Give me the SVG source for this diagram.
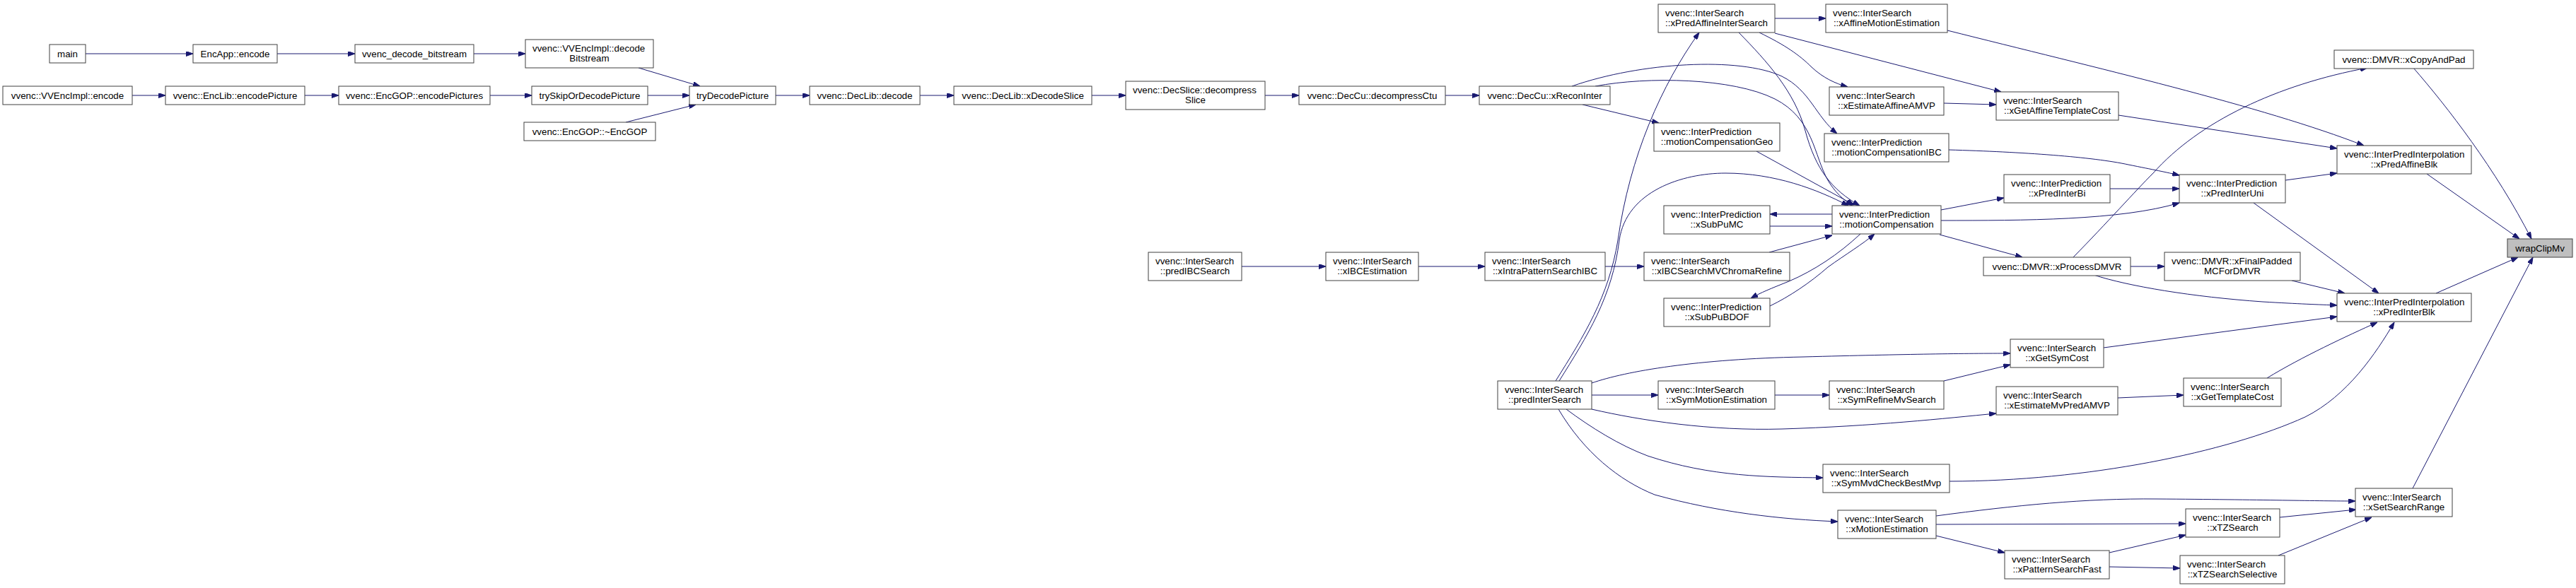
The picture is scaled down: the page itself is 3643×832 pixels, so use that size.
<svg xmlns="http://www.w3.org/2000/svg" width="3643" height="832" viewBox="0 0 3643 832">
<style>
.n rect{fill:#ffffff;stroke:#404040;stroke-width:1}
.n.hl rect{fill:#bfbfbf}
.n text{font-family:"Liberation Sans",Arial,Helvetica,sans-serif;font-size:13.33px;fill:#000000}
.c{text-anchor:middle}
.e path{fill:none;stroke:#191970;stroke-width:1;marker-end:url(#ah)}
</style>
<defs>
<marker id="ah" viewBox="0 0 10 7" refX="10" refY="3.5" markerWidth="10" markerHeight="7" markerUnits="userSpaceOnUse" orient="auto"><path d="M0,0 L10,3.5 L0,7 z" fill="#191970" stroke="#191970" stroke-width="1"/></marker>
</defs>
<rect x="0" y="0" width="3643" height="832" fill="#ffffff"/>
<g id="edges" class="e">
<path d="M121,76 L273,76"/>
<path d="M392,76 L502,76"/>
<path d="M670,76 L743,76"/>
<path d="M187,135 L234,135"/>
<path d="M431,135 L479,135"/>
<path d="M693,135 L752,135"/>
<path d="M903,96 L990,122"/>
<path d="M916,135 L975,135"/>
<path d="M885,173 L984,148"/>
<path d="M1097,135 L1145,135"/>
<path d="M1301,135 L1349,135"/>
<path d="M1544,135 L1592,135"/>
<path d="M1789,135 L1837,135"/>
<path d="M2044,135 L2092,135"/>
<path d="M2238,148 L2346,174"/>
<path d="M2223,122 C2320,88 2460,80 2520,108 C2560,128 2568,165 2598,189"/>
<path d="M2256,122 C2330,108 2450,110 2510,140 C2565,168 2565,220 2585,255 C2595,272 2607,283 2620,291"/>
<path d="M2200,539 C2240,475 2275,420 2288,340 C2305,220 2350,120 2403,46"/>
<path d="M2205,539 C2245,475 2280,420 2290,340 C2300,270 2380,245 2440,245 C2510,245 2570,268 2614,291"/>
<path d="M2510,26 L2582,26"/>
<path d="M2459,46 C2500,88 2538,130 2553,185 C2568,240 2590,268 2630,291"/>
<path d="M2488,46 C2525,64 2545,78 2562,95 C2578,110 2595,118 2613,123"/>
<path d="M2510,47 L2830,130"/>
<path d="M2754,43 C2960,95 3200,150 3343,206"/>
<path d="M2749,146 L2823,148"/>
<path d="M2996,163 L3305,210"/>
<path d="M2756,212 C2860,215 2960,222 3010,233 C3045,240 3065,244 3082,248"/>
<path d="M2745,297 L2834,280"/>
<path d="M2745,312 C2860,312 3000,312 3082,287"/>
<path d="M2743,332 L2860,364"/>
<path d="M2591,303 L2503,303"/>
<path d="M2503,320 L2591,320"/>
<path d="M2631,331 C2600,360 2565,383 2530,398 C2505,408 2490,414 2476,422"/>
<path d="M2503,433 C2530,420 2560,400 2585,378 C2610,360 2635,345 2651,331"/>
<path d="M2502,357 L2591,333"/>
<path d="M2484,214 L2622,290"/>
<path d="M2270,377 L2325,377"/>
<path d="M2006,377 L2100,377"/>
<path d="M1756,377 L1875,377"/>
<path d="M2984,267 L3082,267"/>
<path d="M3232,255 L3305,245"/>
<path d="M3187,287 L3364,415"/>
<path d="M3432,246 L3563,338"/>
<path d="M3413,96 C3460,150 3530,240 3580,338"/>
<path d="M2932,364 C2980,315 3020,270 3045,245 C3110,172 3220,120 3348,96"/>
<path d="M3013,377 L3061,377"/>
<path d="M2961,389 C3010,405 3100,420 3200,427 C3250,430 3280,431 3305,432"/>
<path d="M3241,397 L3316,415"/>
<path d="M3445,415 L3561,364"/>
<path d="M3412,691 L3582,364"/>
<path d="M2975,492 L3305,448"/>
<path d="M3206,535 C3255,505 3320,475 3362,456"/>
<path d="M2757,681 C2950,681 3150,640 3260,590 C3320,560 3360,500 3386,456"/>
<path d="M2251,542 C2300,525 2400,508 2550,505 C2700,501 2780,500 2843,500"/>
<path d="M2749,539 L2843,516"/>
<path d="M2251,579 C2320,595 2420,610 2520,607 C2650,603 2750,592 2823,585"/>
<path d="M2995,563 L3088,559"/>
<path d="M2251,559 L2345,559"/>
<path d="M2510,559 L2587,559"/>
<path d="M2215,579 C2250,605 2290,630 2330,645 C2420,675 2500,675 2578,676"/>
<path d="M2204,579 C2240,640 2290,680 2340,700 C2430,725 2520,735 2599,738"/>
<path d="M2738,730 C2850,715 2950,705 3050,706 C3200,707 3280,709 3331,709"/>
<path d="M2738,742 L3091,741"/>
<path d="M2738,758 L2835,782"/>
<path d="M3224,732 L3332,721"/>
<path d="M2983,782 L3091,757"/>
<path d="M2983,802 L3083,804"/>
<path d="M3222,786 L3354,732"/>
</g>
<g id="n_main" class="n"><rect x="70" y="63" width="51" height="26"/><text class="c" x="95.5" y="80.5">main</text></g>
<g id="n_encapp" class="n"><rect x="273" y="63" width="119" height="26"/><text class="c" x="332.5" y="80.5">EncApp::encode</text></g>
<g id="n_vdb" class="n"><rect x="502" y="63" width="168" height="26"/><text class="c" x="586" y="80.5">vvenc_decode_bitstream</text></g>
<g id="n_decbs" class="n"><rect x="743" y="56" width="181" height="40"/><text x="753" y="73">vvenc::VVEncImpl::decode</text><text class="c" x="833.5" y="87">Bitstream</text></g>
<g id="n_implenc" class="n"><rect x="4" y="122" width="183" height="26"/><text class="c" x="95.5" y="139.5">vvenc::VVEncImpl::encode</text></g>
<g id="n_enclib" class="n"><rect x="234" y="122" width="197" height="26"/><text class="c" x="332.5" y="139.5">vvenc::EncLib::encodePicture</text></g>
<g id="n_encgop" class="n"><rect x="479" y="122" width="214" height="26"/><text class="c" x="586" y="139.5">vvenc::EncGOP::encodePictures</text></g>
<g id="n_tryskip" class="n"><rect x="752" y="122" width="164" height="26"/><text class="c" x="834" y="139.5">trySkipOrDecodePicture</text></g>
<g id="n_dtor" class="n"><rect x="741" y="173" width="186" height="26"/><text class="c" x="834" y="190.5">vvenc::EncGOP::~EncGOP</text></g>
<g id="n_trydec" class="n"><rect x="975" y="122" width="122" height="26"/><text class="c" x="1036" y="139.5">tryDecodePicture</text></g>
<g id="n_declib" class="n"><rect x="1145" y="122" width="156" height="26"/><text class="c" x="1223" y="139.5">vvenc::DecLib::decode</text></g>
<g id="n_xdecslice" class="n"><rect x="1349" y="122" width="195" height="26"/><text class="c" x="1446.5" y="139.5">vvenc::DecLib::xDecodeSlice</text></g>
<g id="n_decslice" class="n"><rect x="1592" y="115" width="197" height="40"/><text x="1602" y="132">vvenc::DecSlice::decompress</text><text class="c" x="1690.5" y="146">Slice</text></g>
<g id="n_decctu" class="n"><rect x="1837" y="122" width="207" height="26"/><text class="c" x="1940.5" y="139.5">vvenc::DecCu::decompressCtu</text></g>
<g id="n_xrecon" class="n"><rect x="2092" y="122" width="185" height="26"/><text class="c" x="2184.5" y="139.5">vvenc::DecCu::xReconInter</text></g>
<g id="n_predibc" class="n"><rect x="1624" y="357" width="132" height="40"/><text x="1634" y="374">vvenc::InterSearch</text><text class="c" x="1690" y="388">::predIBCSearch</text></g>
<g id="n_xibcest" class="n"><rect x="1875" y="357" width="131" height="40"/><text x="1885" y="374">vvenc::InterSearch</text><text class="c" x="1940.5" y="388">::xIBCEstimation</text></g>
<g id="n_xintrapat" class="n"><rect x="2100" y="357" width="170" height="40"/><text x="2110" y="374">vvenc::InterSearch</text><text class="c" x="2185" y="388">::xIntraPatternSearchIBC</text></g>
<g id="n_xpredaffis" class="n"><rect x="2345" y="6" width="165" height="40"/><text x="2355" y="23">vvenc::InterSearch</text><text class="c" x="2427.5" y="37">::xPredAffineInterSearch</text></g>
<g id="n_xaffme" class="n"><rect x="2582" y="6" width="172" height="40"/><text x="2592" y="23">vvenc::InterSearch</text><text class="c" x="2668" y="37">::xAffineMotionEstimation</text></g>
<g id="n_xestaffamvp" class="n"><rect x="2587" y="123" width="162" height="40"/><text x="2597" y="140">vvenc::InterSearch</text><text class="c" x="2668" y="154">::xEstimateAffineAMVP</text></g>
<g id="n_mcgeo" class="n"><rect x="2339" y="174" width="178" height="40"/><text x="2349" y="191">vvenc::InterPrediction</text><text class="c" x="2428" y="205">::motionCompensationGeo</text></g>
<g id="n_mcibc" class="n"><rect x="2580" y="189" width="176" height="40"/><text x="2590" y="206">vvenc::InterPrediction</text><text class="c" x="2668" y="220">::motionCompensationIBC</text></g>
<g id="n_xsubpumc" class="n"><rect x="2353" y="291" width="150" height="40"/><text x="2363" y="308">vvenc::InterPrediction</text><text class="c" x="2428" y="322">::xSubPuMC</text></g>
<g id="n_mc" class="n"><rect x="2591" y="291" width="154" height="40"/><text x="2601" y="308">vvenc::InterPrediction</text><text class="c" x="2668" y="322">::motionCompensation</text></g>
<g id="n_xibcchroma" class="n"><rect x="2325" y="357" width="206" height="40"/><text x="2335" y="374">vvenc::InterSearch</text><text class="c" x="2428" y="388">::xIBCSearchMVChromaRefine</text></g>
<g id="n_xsubpubdof" class="n"><rect x="2353" y="422" width="150" height="40"/><text x="2363" y="439">vvenc::InterPrediction</text><text class="c" x="2428" y="453">::xSubPuBDOF</text></g>
<g id="n_predinter" class="n"><rect x="2118" y="539" width="133" height="40"/><text x="2128" y="556">vvenc::InterSearch</text><text class="c" x="2184.5" y="570">::predInterSearch</text></g>
<g id="n_xsymme" class="n"><rect x="2345" y="539" width="165" height="40"/><text x="2355" y="556">vvenc::InterSearch</text><text class="c" x="2427.5" y="570">::xSymMotionEstimation</text></g>
<g id="n_xsymrefine" class="n"><rect x="2587" y="539" width="162" height="40"/><text x="2597" y="556">vvenc::InterSearch</text><text class="c" x="2668" y="570">::xSymRefineMvSearch</text></g>
<g id="n_xsymmvd" class="n"><rect x="2578" y="657" width="179" height="40"/><text x="2588" y="674">vvenc::InterSearch</text><text class="c" x="2667.5" y="688">::xSymMvdCheckBestMvp</text></g>
<g id="n_xme" class="n"><rect x="2599" y="722" width="139" height="40"/><text x="2609" y="739">vvenc::InterSearch</text><text class="c" x="2668.5" y="753">::xMotionEstimation</text></g>
<g id="n_xgetafftc" class="n"><rect x="2823" y="130" width="173" height="40"/><text x="2833" y="147">vvenc::InterSearch</text><text class="c" x="2909.5" y="161">::xGetAffineTemplateCost</text></g>
<g id="n_xpredbi" class="n"><rect x="2834" y="247" width="150" height="40"/><text x="2844" y="264">vvenc::InterPrediction</text><text class="c" x="2909" y="278">::xPredInterBi</text></g>
<g id="n_xprocdmvr" class="n"><rect x="2805" y="364" width="208" height="26"/><text class="c" x="2909" y="381.5">vvenc::DMVR::xProcessDMVR</text></g>
<g id="n_xgetsym" class="n"><rect x="2843" y="480" width="132" height="40"/><text x="2853" y="497">vvenc::InterSearch</text><text class="c" x="2909" y="511">::xGetSymCost</text></g>
<g id="n_xestmvp" class="n"><rect x="2823" y="547" width="172" height="40"/><text x="2833" y="564">vvenc::InterSearch</text><text class="c" x="2909" y="578">::xEstimateMvPredAMVP</text></g>
<g id="n_xpatfast" class="n"><rect x="2835" y="779" width="148" height="40"/><text x="2845" y="796">vvenc::InterSearch</text><text class="c" x="2909" y="810">::xPatternSearchFast</text></g>
<g id="n_xpreduni" class="n"><rect x="3082" y="247" width="150" height="40"/><text x="3092" y="264">vvenc::InterPrediction</text><text class="c" x="3157" y="278">::xPredInterUni</text></g>
<g id="n_xfinalpad" class="n"><rect x="3061" y="357" width="192" height="40"/><text x="3071" y="374">vvenc::DMVR::xFinalPadded</text><text class="c" x="3157" y="388">MCForDMVR</text></g>
<g id="n_xgettc" class="n"><rect x="3088" y="535" width="138" height="40"/><text x="3098" y="552">vvenc::InterSearch</text><text class="c" x="3157" y="566">::xGetTemplateCost</text></g>
<g id="n_xtz" class="n"><rect x="3091" y="720" width="133" height="40"/><text x="3101" y="737">vvenc::InterSearch</text><text class="c" x="3157.5" y="751">::xTZSearch</text></g>
<g id="n_xtzsel" class="n"><rect x="3083" y="786" width="148" height="40"/><text x="3093" y="803">vvenc::InterSearch</text><text class="c" x="3157" y="817">::xTZSearchSelective</text></g>
<g id="n_xcopypad" class="n"><rect x="3301" y="71" width="197" height="26"/><text class="c" x="3399.5" y="88.5">vvenc::DMVR::xCopyAndPad</text></g>
<g id="n_xpredaffblk" class="n"><rect x="3305" y="206" width="190" height="40"/><text x="3315" y="223">vvenc::InterPredInterpolation</text><text class="c" x="3400" y="237">::xPredAffineBlk</text></g>
<g id="n_xpredinterblk" class="n"><rect x="3305" y="415" width="190" height="40"/><text x="3315" y="432">vvenc::InterPredInterpolation</text><text class="c" x="3400" y="446">::xPredInterBlk</text></g>
<g id="n_xsetsr" class="n"><rect x="3331" y="691" width="137" height="40"/><text x="3341" y="708">vvenc::InterSearch</text><text class="c" x="3399.5" y="722">::xSetSearchRange</text></g>
<g id="n_wrap" class="n hl"><rect x="3546" y="338" width="92" height="26"/><text class="c" x="3592" y="355.5">wrapClipMv</text></g>
</svg>
